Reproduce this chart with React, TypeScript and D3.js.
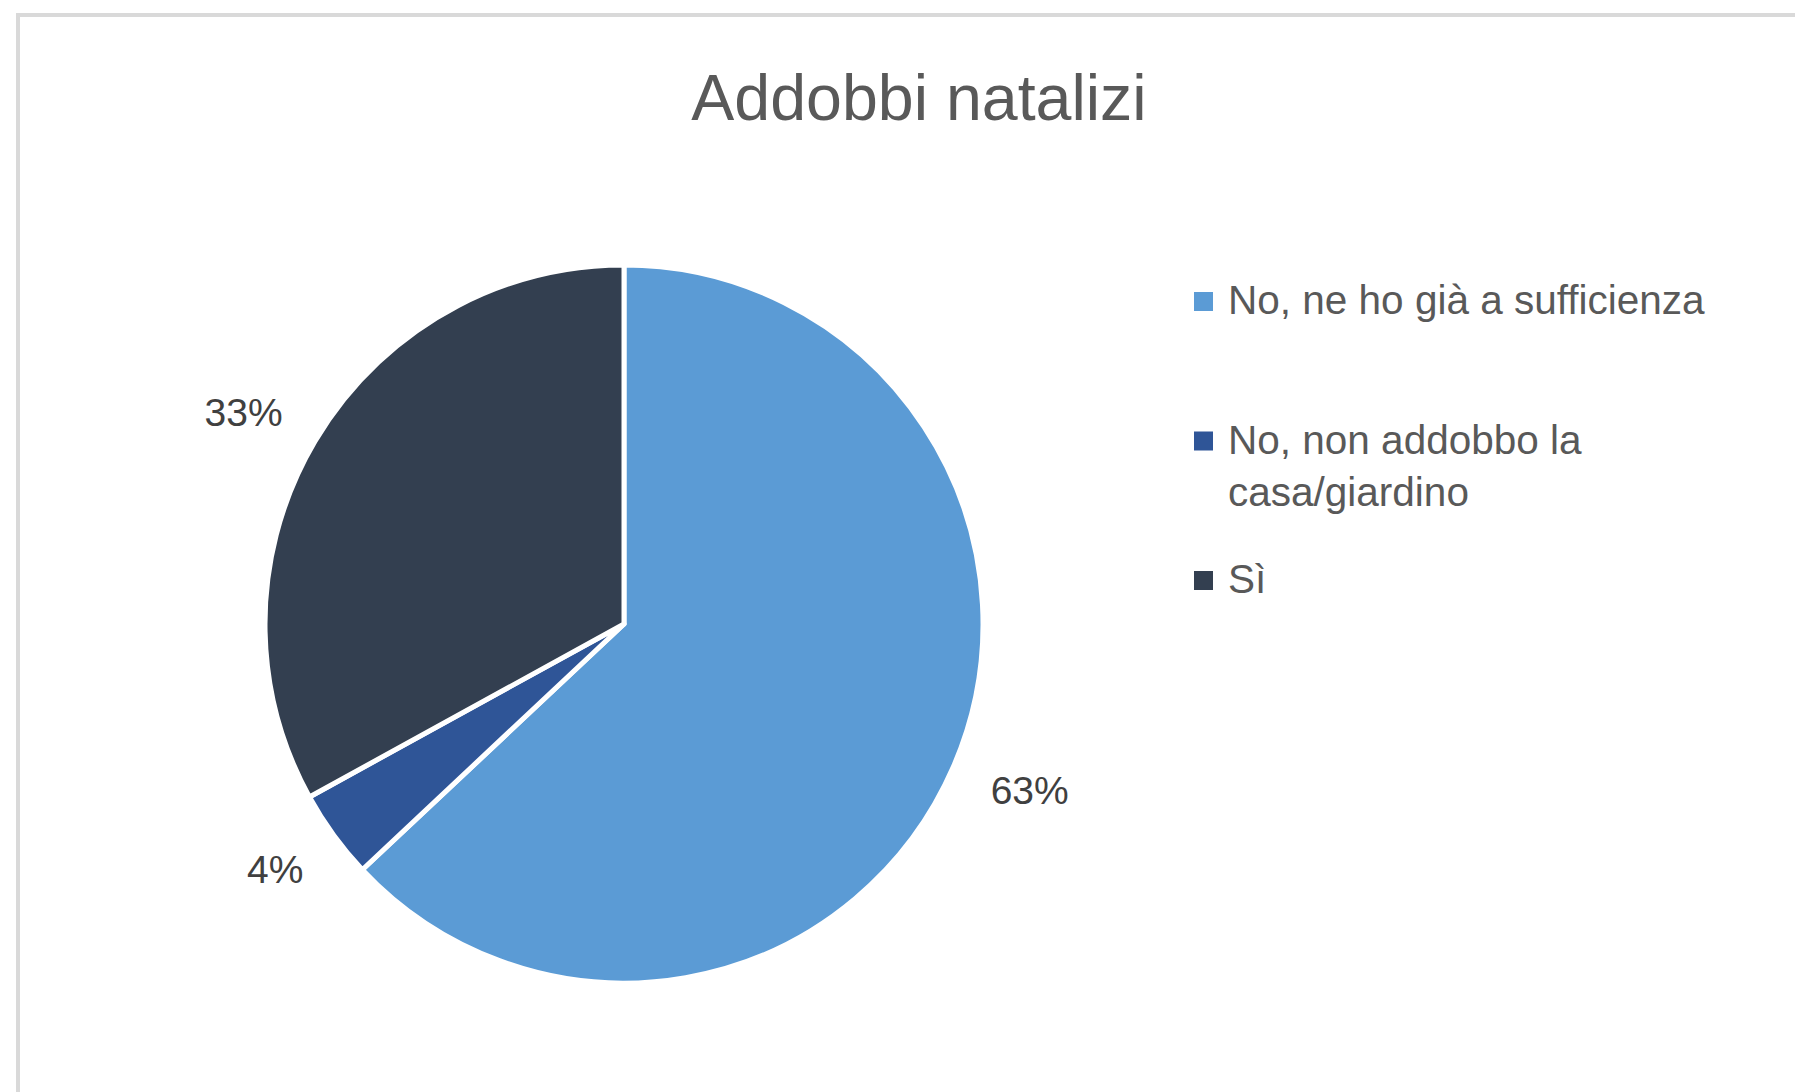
import React from "react";
import * as d3 from "d3";

const title = "Addobbi natalizi";
const categories = ["No, ne ho già a sufficienza", "No, non addobbo la casa/giardino", "Sì"];
const legendLines = [["No, ne ho già a sufficienza"], ["No, non addobbo la", "casa/giardino"], ["Sì"]];
const values = [63, 4, 33];
const colors = ["#5B9BD5", "#2F5597", "#333F50"];

const W = 1795;
const H = 1092;
const cx = 624;
const cy = 624;
const R = 359;
const anchorR = 403;
const labelFont = 39;

export default function App() {
  const pie = d3.pie<number>().sort(null).value((d) => d)(values);
  const arc = d3.arc<d3.PieArcDatum<number>>().innerRadius(0).outerRadius(R);
  const total = d3.sum(values);
  const fmt = (v: number) => `${Math.round((v / total) * 100)}%`;
  const font = "'Liberation Sans', Arial, sans-serif";
  const legendX = 1194;
  const legendTop = 314;
  const legendStep = 139.5;
  const lineH = 52;

  return (
    <div style={{ position: "fixed", left: 0, top: 0 }}>
      <svg width={W} height={H} style={{ display: "block", background: "#fff" }}>
        <rect x={0} y={0} width={W} height={H} fill="#fff" />
        <rect x={18} y={15} width={W + 20} height={H + 20} fill="none" stroke="#D9D9D9" strokeWidth={4} />
        <text x={919} y={120} textAnchor="middle" fontFamily={font} fontSize={64.5} fill="#595959">
          {title}
        </text>
        <g transform={`translate(${cx},${cy})`}>
          {pie.map((p, i) => (
            <path key={i} d={arc(p) as string} fill={colors[i]} stroke="#fff" strokeWidth={5} strokeLinejoin="round" />
          ))}
          {pie.map((p, i) => {
            const a = (p.startAngle + p.endAngle) / 2;
            const ux = Math.sin(a);
            const uy = -Math.cos(a);
            const txt = fmt(p.data);
            const w = (txt.length - 1) * 0.556 * labelFont + 0.889 * labelFont;
            const h = 0.716 * labelFont;
            const x = ux * anchorR + (ux * w) / 2;
            const y = uy * anchorR + (uy * h) / 2;
            return (
              <text key={i} x={x} y={y + h / 2} textAnchor="middle" fontFamily={font} fontSize={labelFont} fill="#404040">
                {txt}
              </text>
            );
          })}
        </g>
        {categories.map((c, i) => {
          const by = legendTop + i * legendStep;
          return (
            <g key={c}>
              <rect x={legendX} y={by - 22} width={19} height={19} fill={colors[i]} />
              <text fontFamily={font} fontSize={40.5} fill="#595959">
                {legendLines[i].map((ln, j) => (
                  <tspan key={j} x={legendX + 34} y={by + j * lineH}>
                    {ln}
                  </tspan>
                ))}
              </text>
            </g>
          );
        })}
      </svg>
    </div>
  );
}
